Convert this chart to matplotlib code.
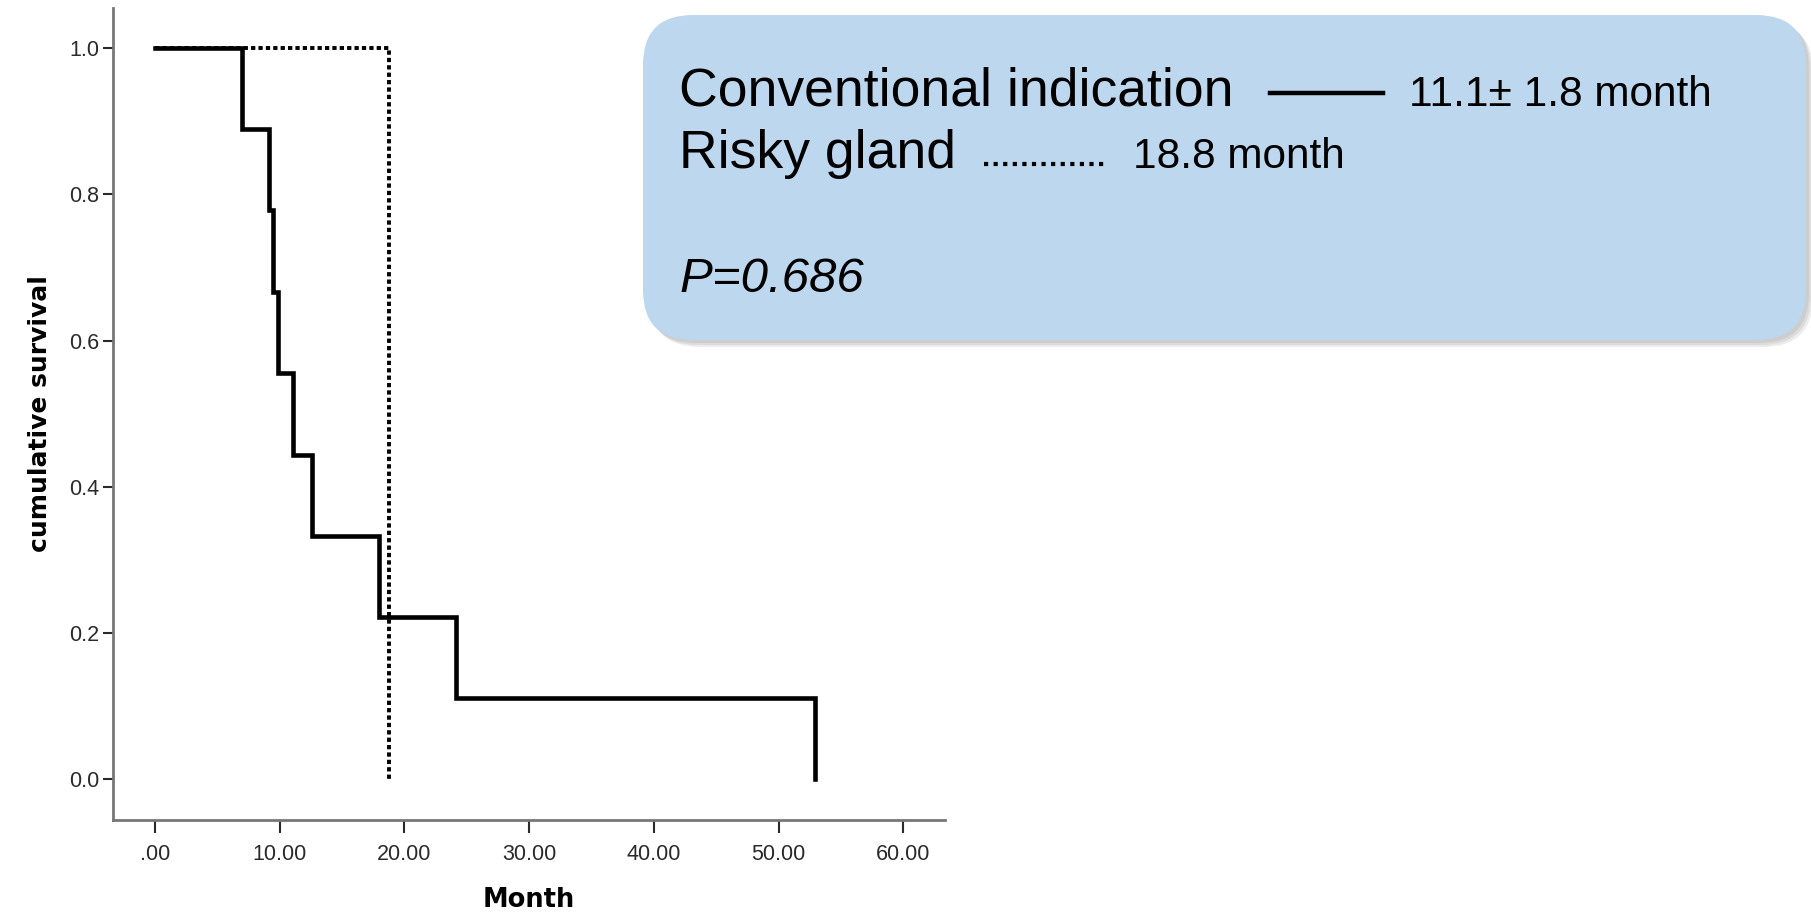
import matplotlib
matplotlib.use("Agg")
import matplotlib.pyplot as plt
from matplotlib.patches import FancyBboxPatch

# Kaplan-Meier steps
conv_times = [0.0, 7.0, 9.1, 9.5, 9.9, 11.1, 12.6, 18.0, 24.1, 52.9]
conv_surv = [1.0, 0.889, 0.778, 0.667, 0.556, 0.444, 0.333, 0.222, 0.111, 0.0]
risky_times = [0.0, 18.8]
risky_surv = [1.0, 0.0]

x_ticks = [0, 10, 20, 30, 40, 50, 60]
x_labels = [".00", "10.00", "20.00", "30.00", "40.00", "50.00", "60.00"]
y_ticks = [0.0, 0.2, 0.4, 0.6, 0.8, 1.0]
y_labels = ["0.0", "0.2", "0.4", "0.6", "0.8", "1.0"]

conv_label = "Conventional indication"
conv_median = "11.1\u00b1 1.8 month"
risky_label = "Risky gland"
risky_median = "18.8 month"
p_text = "P=0.686"

W, H = 1811, 913
fig = plt.figure(figsize=(W / 100, H / 100), dpi=100)
plt.rcParams['font.family'] = ['Liberation Sans', 'DejaVu Sans']

ax = fig.add_axes([113 / W, 1 - 820 / H, (945 - 113) / W, (820 - 8) / H])
ax.step(conv_times, conv_surv, where='post', color='black', lw=3.3,
        solid_joinstyle='miter')
ax.step(risky_times, risky_surv, where='post', color='black', lw=2.8,
        linestyle=(0, (1.1, 0.8)))

ax.set_xlim(-3.37, 63.35)
ax.set_ylim(-0.056, 1.055)
ax.set_xticks(x_ticks)
ax.set_xticklabels(x_labels)
ax.set_yticks(y_ticks)
ax.set_yticklabels(y_labels)
ax.tick_params(axis='both', labelsize=15.5, colors='#2a2a2a', direction='out',
               width=1.5)
ax.tick_params(axis='x', length=9, pad=8)
ax.tick_params(axis='y', length=7, pad=3)
for s in ['top', 'right']:
    ax.spines[s].set_visible(False)
for s in ['left', 'bottom']:
    ax.spines[s].set_color('#777777')
    ax.spines[s].set_linewidth(2)

ax.set_xlabel("Month", fontsize=18.5, fontweight='bold', family='DejaVu Sans',
              labelpad=16)
ax.set_ylabel("cumulative survival", fontsize=18, fontweight='bold',
              family='DejaVu Sans', labelpad=12)

# overlay in pixel coordinates for the rounded info box
ov = fig.add_axes([0, 0, 1, 1])
ov.set_xlim(0, W)
ov.set_ylim(H, 0)
ov.axis('off')

# soft shadow: a few stacked faint patches
for off in [7, 5, 3]:
    ov.add_patch(FancyBboxPatch((643 + off, 15 + off), 1163, 325,
                                boxstyle="round,pad=0,rounding_size=50",
                                fc='#808080', ec='none', alpha=0.15))
box = FancyBboxPatch((643, 15), 1163, 325,
                     boxstyle="round,pad=0,rounding_size=50",
                     fc='#BDD7EE', ec='none')
ov.add_patch(box)

ov.text(679, 106, conv_label, fontsize=38.5, va='baseline', ha='left')
ov.plot([1270, 1383], [93, 93], color='black', lw=3.2)
ov.text(1409, 106, conv_median, fontsize=30.5, va='baseline', ha='left')

ov.text(679, 168, risky_label, fontsize=38.5, va='baseline', ha='left')
ov.plot([984, 1104], [164, 164], color='black', lw=3,
        linestyle=(0, (1, 1.3)))
ov.text(1133, 168, risky_median, fontsize=30.5, va='baseline', ha='left')

ov.text(679, 292, p_text, fontsize=35.5, style='italic', va='baseline',
        ha='left')

fig.savefig("out.png", dpi=100)
